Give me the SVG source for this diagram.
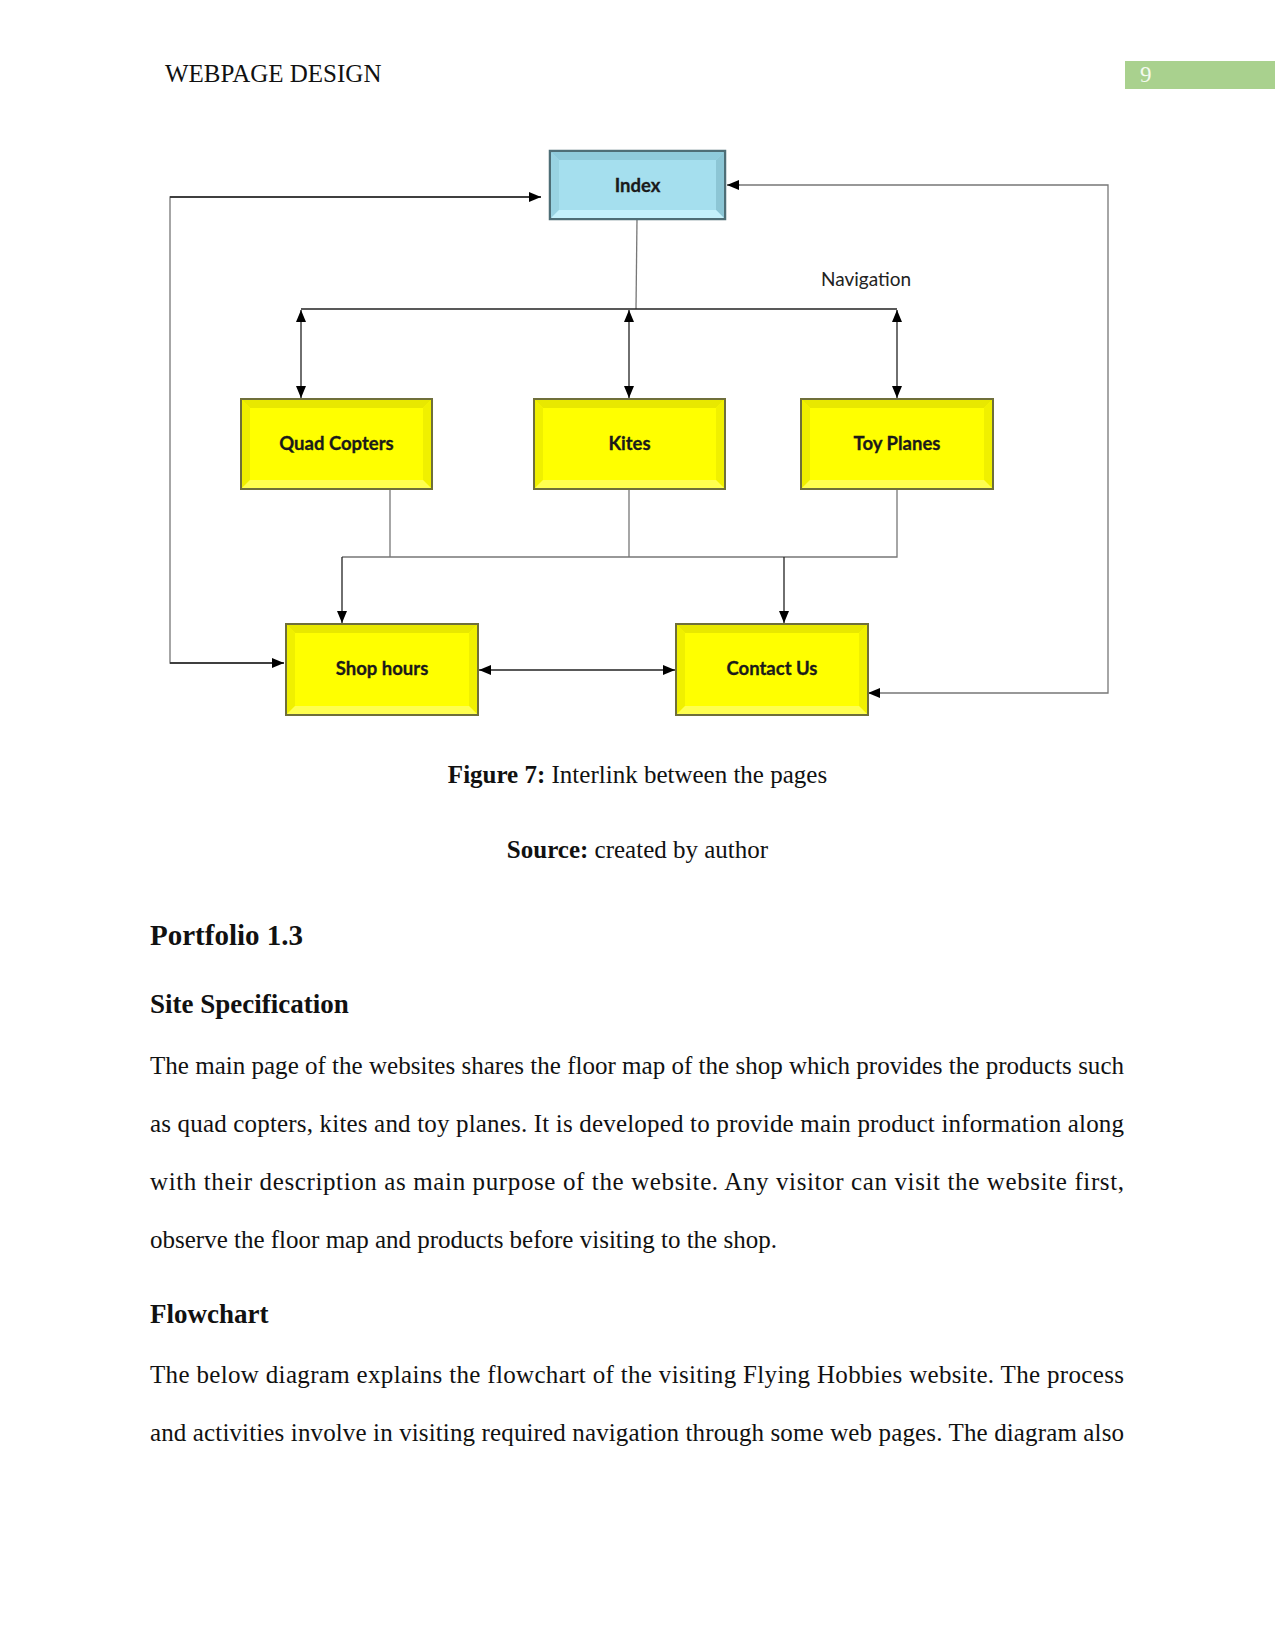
<svg xmlns="http://www.w3.org/2000/svg" width="1275" height="1651" viewBox="0 0 1275 1651">
<style>
.serif{font-family:"Liberation Serif","Times New Roman",serif;fill:#111}
.body{font-size:25px}
.b{font-weight:bold}
.node{font-family:Lato,"Open Sans",sans-serif;font-weight:bold;font-size:18.5px;fill:#1a1a1a;text-anchor:middle;stroke:#1a1a1a;stroke-width:0.3}
.nav{font-family:Lato,"Open Sans",sans-serif;font-size:19px;fill:#222}
.ybox{fill:#ffff00;stroke:#6f6f3a;stroke-width:2}
.bbox{fill:#a3dcea;stroke:#4e6e76;stroke-width:2.5}
.edge{fill:none;stroke:#222;stroke-width:1.3}
.gedge{fill:none;stroke:#777;stroke-width:1.3}
.yt{fill:#e8e800}
.ys{fill:#f0f000}
.yb{fill:#ffff50}
</style>
<defs>
<marker id="ah" viewBox="0 0 12 10" refX="12" refY="5" markerWidth="12" markerHeight="10" markerUnits="userSpaceOnUse" orient="auto-start-reverse">
<path d="M0,0 L12,5 L0,10 Z" fill="#000"/>
</marker>
</defs>

<!-- header -->
<text class="serif" x="165" y="82" font-size="25">WEBPAGE DESIGN</text>
<rect x="1125" y="61" width="150" height="28" fill="#a9d18e"/>
<text x="1140" y="82" font-family="Liberation Serif,serif" font-size="23" fill="#f4faef">9</text>

<!-- connectors -->
<g id="connectors">
<path class="gedge" d="M637,219 L636,309"/>
<path class="edge" d="M301,309 L897,309"/>
<path class="edge" d="M301,310 L301,398" marker-start="url(#ah)" marker-end="url(#ah)"/>
<path class="edge" d="M629,310 L629,398" marker-start="url(#ah)" marker-end="url(#ah)"/>
<path class="edge" d="M897,310 L897,398" marker-start="url(#ah)" marker-end="url(#ah)"/>
<path class="gedge" d="M390,489 L390,557"/>
<path class="gedge" d="M629,489 L629,557"/>
<path class="gedge" d="M897,489 L897,557 L342,557"/>
<path class="edge" d="M342,557 L342,623" marker-end="url(#ah)"/>
<path class="edge" d="M784,557 L784,623" marker-end="url(#ah)"/>
<path class="edge" d="M479,670 L675,670" marker-start="url(#ah)" marker-end="url(#ah)"/>
<path class="gedge" d="M541,197 L170,197 L170,663 L284,663"/>
<path class="edge" d="M170,197 L541,197" marker-end="url(#ah)"/>
<path class="edge" d="M170,663 L284,663" marker-end="url(#ah)"/>
<path class="gedge" d="M727,185 L1108,185 L1108,693 L868,693"/>
<path class="gedge" d="M740,185 L727,185" marker-end="url(#ah)"/>
<path class="gedge" d="M880,693 L868,693" marker-end="url(#ah)"/>
</g>
<text class="nav" x="821" y="286">Navigation</text>

<!-- nodes -->
<g id="index">
<rect class="bbox" x="550" y="151" width="175" height="68"/>
<path d="M551,152 L724,152 L716,160 L559,160 Z" fill="#8fcbdb"/>
<path d="M551,152 L559,160 L559,210 L551,218 Z" fill="#99d3e2"/>
<path d="M724,152 L716,160 L716,210 L724,218 Z" fill="#8cc6d5"/>
<path d="M551,218 L724,218 L716,210 L559,210 Z" fill="#c4f1fb"/>
<rect x="559" y="160" width="157" height="50" fill="#a5dfee"/>
<text class="node" x="637.5" y="192">Index</text>
</g>
<g id="quad">
<rect class="ybox" x="241" y="399" width="191" height="90"/>
<path class="yt" d="M242,400 L431,400 L423,408 L250,408 Z"/>
<path class="ys" d="M242,400 L250,408 L250,480 L242,488 Z"/>
<path class="ys" d="M431,400 L423,408 L423,480 L431,488 Z"/>
<path class="yb" d="M242,488 L431,488 L423,480 L250,480 Z"/>
<text class="node" x="336.5" y="450">Quad Copters</text>
</g>
<g id="kites">
<rect class="ybox" x="534" y="399" width="191" height="90"/>
<path class="yt" d="M535,400 L724,400 L716,408 L543,408 Z"/>
<path class="ys" d="M535,400 L543,408 L543,480 L535,488 Z"/>
<path class="ys" d="M724,400 L716,408 L716,480 L724,488 Z"/>
<path class="yb" d="M535,488 L724,488 L716,480 L543,480 Z"/>
<text class="node" x="629.5" y="450">Kites</text>
</g>
<g id="toy">
<rect class="ybox" x="801" y="399" width="192" height="90"/>
<path class="yt" d="M802,400 L992,400 L984,408 L810,408 Z"/>
<path class="ys" d="M802,400 L810,408 L810,480 L802,488 Z"/>
<path class="ys" d="M992,400 L984,408 L984,480 L992,488 Z"/>
<path class="yb" d="M802,488 L992,488 L984,480 L810,480 Z"/>
<text class="node" x="897" y="450">Toy Planes</text>
</g>
<g id="shop">
<rect class="ybox" x="286" y="624" width="192" height="91"/>
<path class="yt" d="M287,625 L477,625 L469,633 L295,633 Z"/>
<path class="ys" d="M287,625 L295,633 L295,706 L287,714 Z"/>
<path class="ys" d="M477,625 L469,633 L469,706 L477,714 Z"/>
<path class="yb" d="M287,714 L477,714 L469,706 L295,706 Z"/>
<text class="node" x="382" y="675">Shop hours</text>
</g>
<g id="contact">
<rect class="ybox" x="676" y="624" width="192" height="91"/>
<path class="yt" d="M677,625 L867,625 L859,633 L685,633 Z"/>
<path class="ys" d="M677,625 L685,633 L685,706 L677,714 Z"/>
<path class="ys" d="M867,625 L859,633 L859,706 L867,714 Z"/>
<path class="yb" d="M677,714 L867,714 L859,706 L685,706 Z"/>
<text class="node" x="772" y="675">Contact Us</text>
</g>

<!-- captions -->
<text class="serif body" x="637.5" y="783" text-anchor="middle"><tspan class="b">Figure 7:</tspan> Interlink between the pages</text>
<text class="serif body" x="637.5" y="858" text-anchor="middle"><tspan class="b">Source:</tspan> created by author</text>

<!-- body -->
<text class="serif b" x="150" y="945" font-size="29">Portfolio 1.3</text>
<text class="serif b" x="150" y="1013" font-size="27">Site Specification</text>
<text class="serif body" x="150" y="1074" textLength="974" lengthAdjust="spacing">The main page of the websites shares the floor map of the shop which provides the products such</text>
<text class="serif body" x="150" y="1132" textLength="974" lengthAdjust="spacing">as quad copters, kites and toy planes. It is developed to provide main product information along</text>
<text class="serif body" x="150" y="1190" textLength="974" lengthAdjust="spacing">with their description as main purpose of the website. Any visitor can visit the website first,</text>
<text class="serif body" x="150" y="1248">observe the floor map and products before visiting to the shop.</text>
<text class="serif b" x="150" y="1323" font-size="27">Flowchart</text>
<text class="serif body" x="150" y="1383" textLength="974" lengthAdjust="spacing">The below diagram explains the flowchart of the visiting Flying Hobbies website. The process</text>
<text class="serif body" x="150" y="1441" textLength="974" lengthAdjust="spacing">and activities involve in visiting required navigation through some web pages. The diagram also</text>
</svg>
